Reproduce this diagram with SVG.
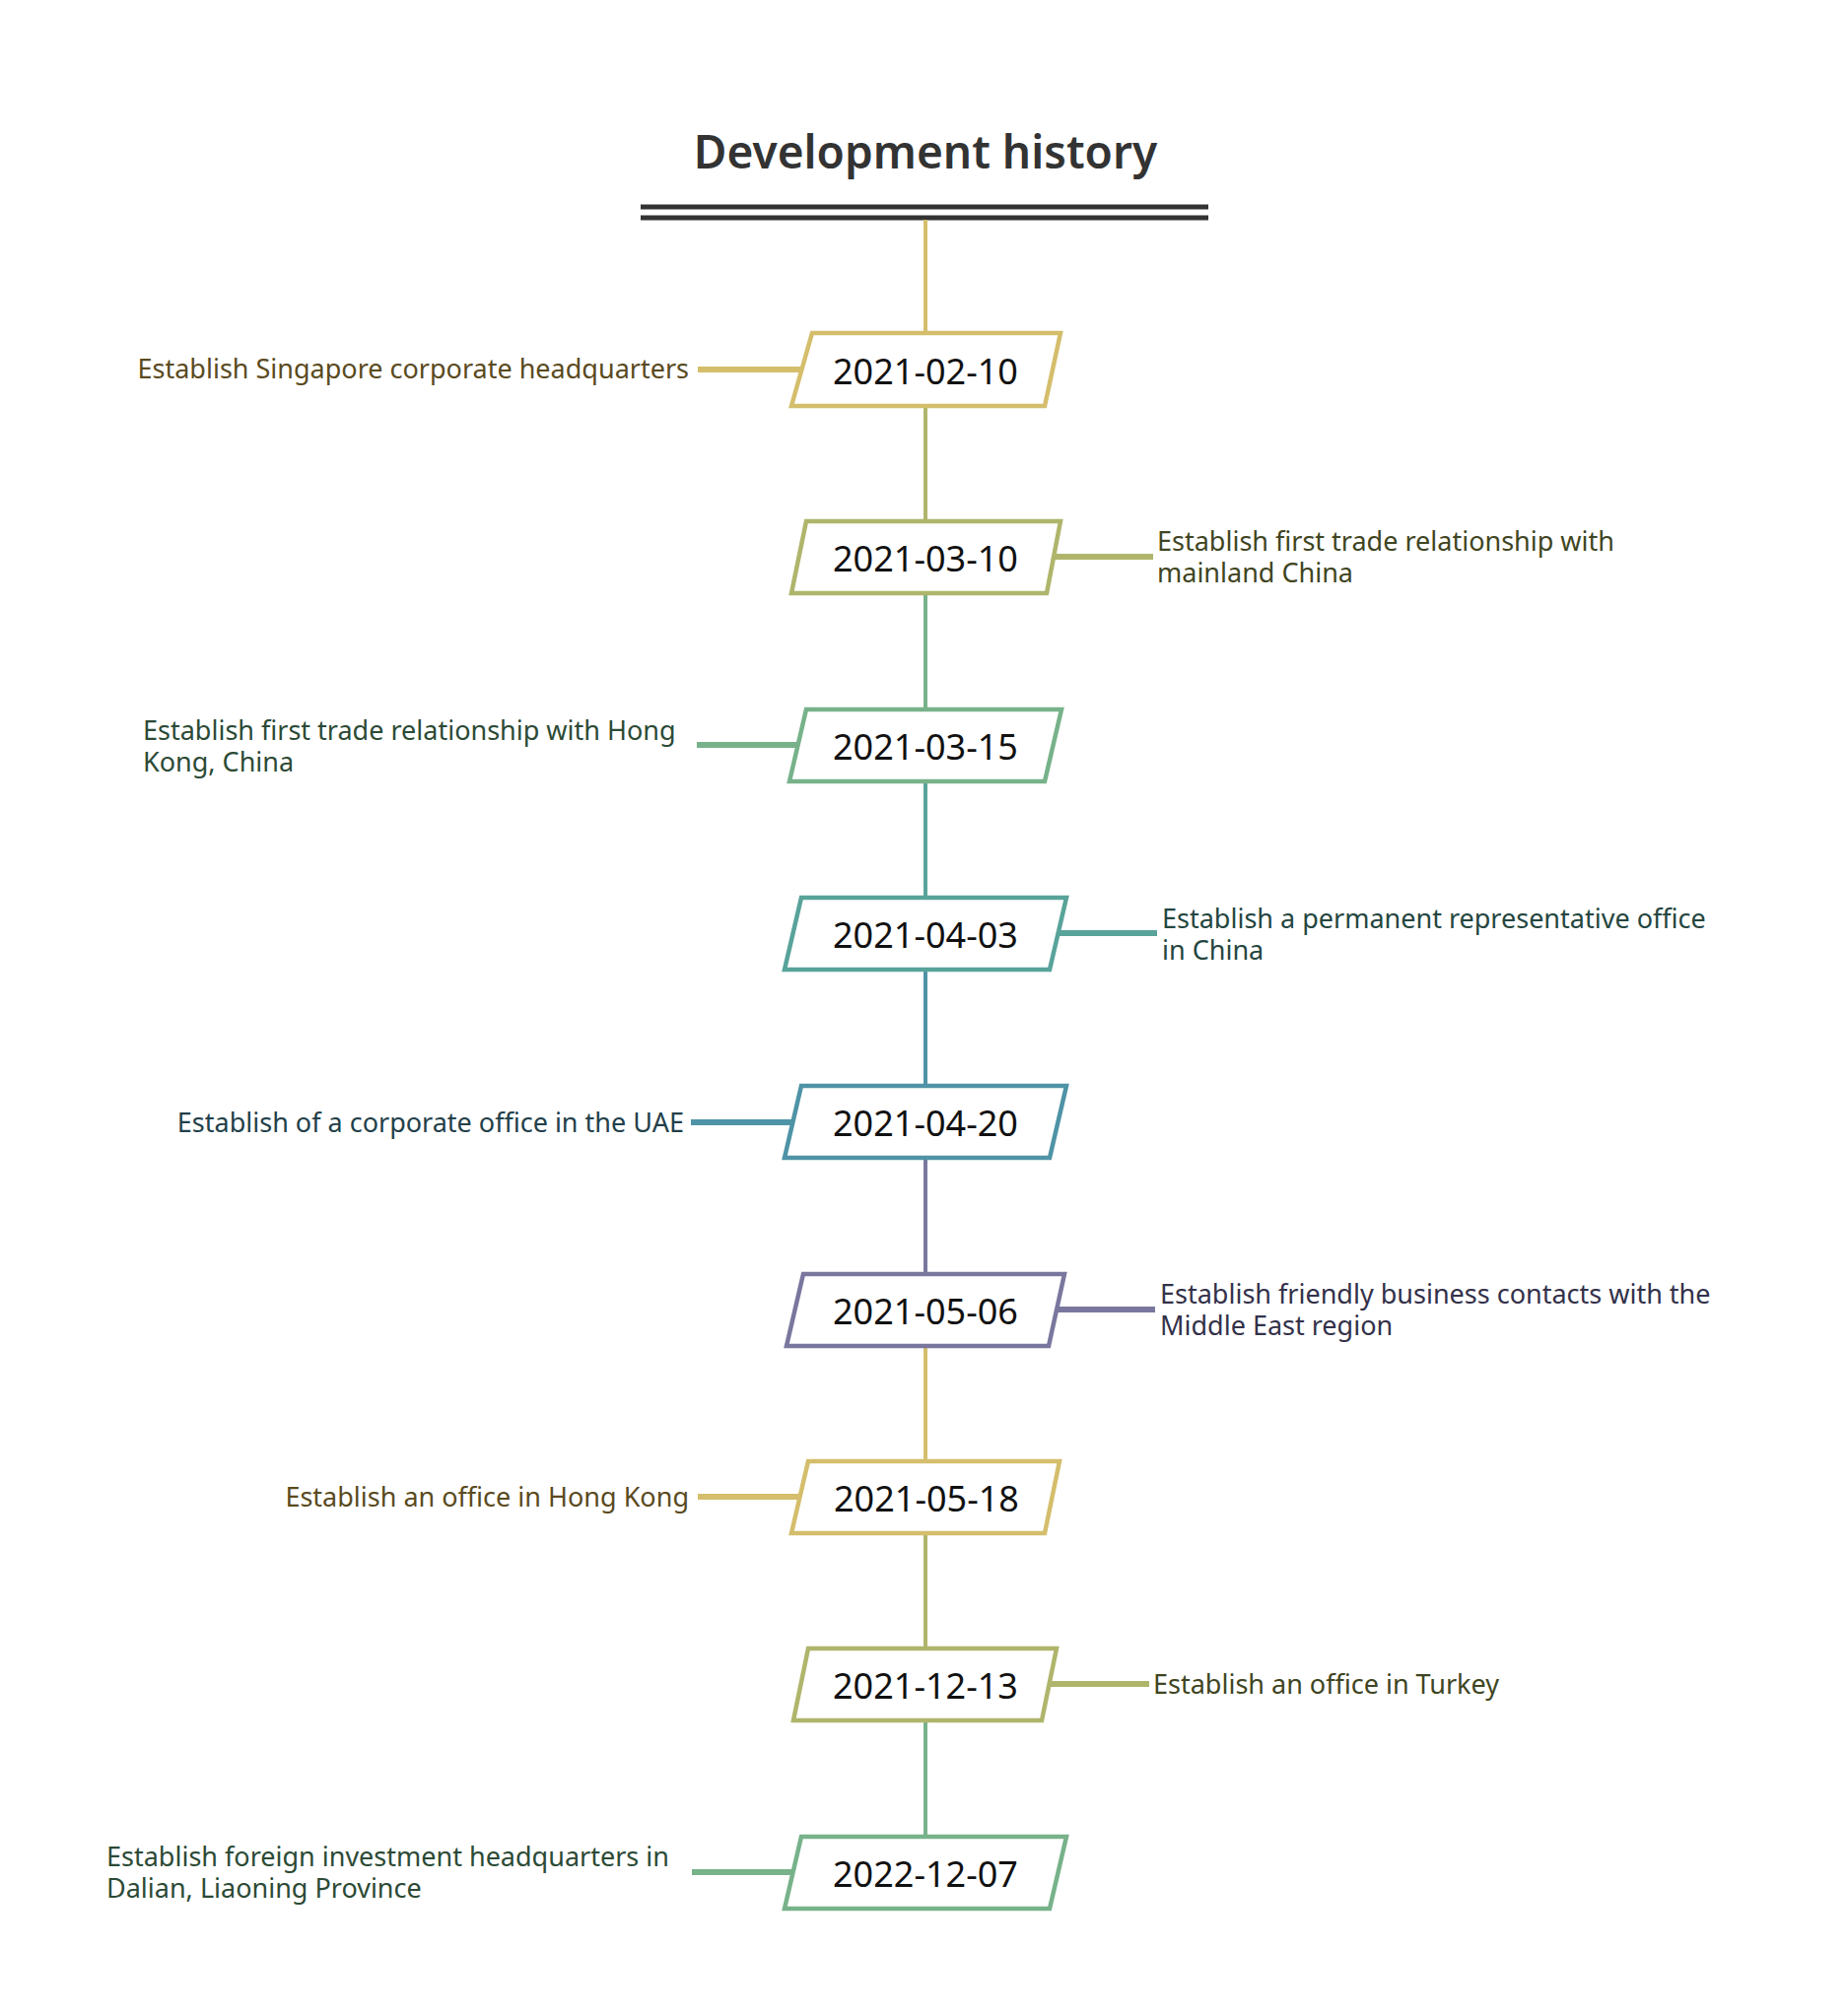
<svg xmlns="http://www.w3.org/2000/svg" width="1874" height="2046" viewBox="0 0 1874 2046">
<style>
.t{font-family:"Noto Sans","Liberation Sans",sans-serif;}
.title{font-size:46px;font-weight:600;fill:#333;text-anchor:middle}
.date{font-size:36px;fill:#111;text-anchor:middle;dominant-baseline:central}
.lab{font-size:27px}
.box{fill:#fff;stroke-width:4.5}
.v{stroke-width:4;fill:none}
.h{stroke-width:6;fill:none}
</style>
<rect width="1874" height="2046" fill="#fff"/>
<g id="title">
<text class="t title" x="939" y="171">Development history</text>
<line x1="650" y1="210" x2="1226" y2="210" stroke="#333" stroke-width="5"/>
<line x1="650" y1="221" x2="1226" y2="221" stroke="#333" stroke-width="5"/>
</g>
<g id="connectors">
<line class="v" x1="939" y1="223" x2="939" y2="337" stroke="#D4BE6C"/>
<line class="v" x1="939" y1="414" x2="939" y2="528" stroke="#AFB56B"/>
<line class="v" x1="939" y1="604" x2="939" y2="718" stroke="#77B28A"/>
<line class="v" x1="939" y1="795" x2="939" y2="909" stroke="#58A39A"/>
<line class="v" x1="939" y1="986" x2="939" y2="1100" stroke="#4F93A6"/>
<line class="v" x1="939" y1="1177" x2="939" y2="1291" stroke="#7A779E"/>
<line class="v" x1="939" y1="1367" x2="939" y2="1481" stroke="#D4BE6C"/>
<line class="v" x1="939" y1="1557" x2="939" y2="1671" stroke="#AFB56B"/>
<line class="v" x1="939" y1="1747" x2="939" y2="1862" stroke="#77B28A"/>
<line class="h" x1="708" y1="375" x2="815" y2="375" stroke="#D4BE6C"/>
<line class="h" x1="1070" y1="565" x2="1170" y2="565" stroke="#AFB56B"/>
<line class="h" x1="707" y1="756" x2="815" y2="756" stroke="#77B28A"/>
<line class="h" x1="1074" y1="947" x2="1174" y2="947" stroke="#58A39A"/>
<line class="h" x1="701" y1="1139" x2="810" y2="1139" stroke="#4F93A6"/>
<line class="h" x1="1072" y1="1329" x2="1172" y2="1329" stroke="#7A779E"/>
<line class="h" x1="708" y1="1519" x2="815" y2="1519" stroke="#D4BE6C"/>
<line class="h" x1="1065" y1="1709" x2="1166" y2="1709" stroke="#AFB56B"/>
<line class="h" x1="702" y1="1900" x2="810" y2="1900" stroke="#77B28A"/>
</g>
<g id="n1"><polygon class="box" stroke="#D4BE6C" points="824,338 1076,338 1060,412 803,412"/><text class="t date" x="939" y="376">2021-02-10</text>
<text class="t lab" x="699" y="384" text-anchor="end" fill="#5A4A1E">Establish Singapore corporate headquarters</text></g>
<g id="n2"><polygon class="box" stroke="#AFB56B" points="818,529 1076,529 1062,602 803,602"/><text class="t date" x="939" y="566">2021-03-10</text>
<text class="t lab" x="1174" y="559" fill="#3F4522">Establish first trade relationship with</text><text class="t lab" x="1174" y="591" fill="#3F4522">mainland China</text></g>
<g id="n3"><polygon class="box" stroke="#77B28A" points="818,720 1077,720 1060,793 801,793"/><text class="t date" x="939" y="757">2021-03-15</text>
<text class="t lab" x="145" y="751" fill="#2C4A36">Establish first trade relationship with Hong</text><text class="t lab" x="145" y="783" fill="#2C4A36">Kong, China</text></g>
<g id="n4"><polygon class="box" stroke="#58A39A" points="813,911 1082,911 1065,984 796,984"/><text class="t date" x="939" y="948">2021-04-03</text>
<text class="t lab" x="1179" y="942" fill="#25463F">Establish a permanent representative office</text><text class="t lab" x="1179" y="974" fill="#25463F">in China</text></g>
<g id="n5"><polygon class="box" stroke="#4F93A6" points="813,1102 1082,1102 1065,1175 796,1175"/><text class="t date" x="939" y="1139">2021-04-20</text>
<text class="t lab" x="694" y="1149" text-anchor="end" fill="#23404A">Establish of a corporate office in the UAE</text></g>
<g id="n6"><polygon class="box" stroke="#7A779E" points="815,1293 1080,1293 1064,1366 798,1366"/><text class="t date" x="939" y="1330">2021-05-06</text>
<text class="t lab" x="1177" y="1323" fill="#33314A">Establish friendly business contacts with the</text><text class="t lab" x="1177" y="1355" fill="#33314A">Middle East region</text></g>
<g id="n7"><polygon class="box" stroke="#D4BE6C" points="820,1483 1075,1483 1060,1556 803,1556"/><text class="t date" x="940" y="1520">2021-05-18</text>
<text class="t lab" x="699" y="1529" text-anchor="end" fill="#5A4A1E">Establish an office in Hong Kong</text></g>
<g id="n8"><polygon class="box" stroke="#AFB56B" points="820,1673 1072,1673 1057,1746 805,1746"/><text class="t date" x="939" y="1710">2021-12-13</text>
<text class="t lab" x="1170" y="1719" fill="#3F4522">Establish an office in Turkey</text></g>
<g id="n9"><polygon class="box" stroke="#77B28A" points="813,1864 1082,1864 1065,1937 796,1937"/><text class="t date" x="939" y="1901">2022-12-07</text>
<text class="t lab" x="108" y="1894" fill="#2C4A36">Establish foreign investment headquarters in</text><text class="t lab" x="108" y="1926" fill="#2C4A36">Dalian, Liaoning Province</text></g>
</svg>
